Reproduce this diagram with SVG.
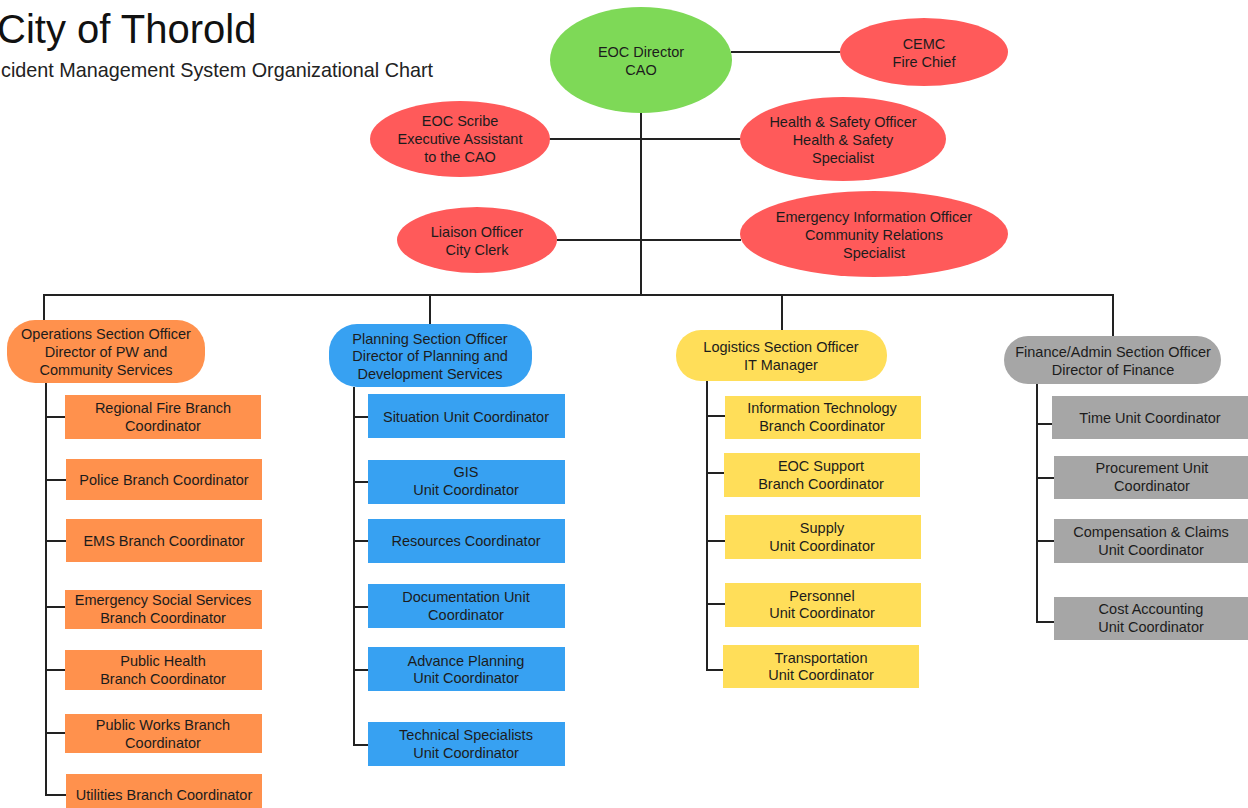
<svg xmlns="http://www.w3.org/2000/svg" width="1248" height="808" viewBox="0 0 1248 808">
<style>
text{font-family:"Liberation Sans",Arial,sans-serif;fill:#1c1c1c;}
.t{font-size:14.5px;text-anchor:middle;}
.ln{stroke:#222;stroke-width:2;fill:none;}
.g{fill:#7ED957;}
.r{fill:#FF5A5A;}
.o{fill:#FF914D;}
.b{fill:#37A1F2;}
.y{fill:#FFDE59;}
.s{fill:#A6A6A6;}
</style>
<rect width="1248" height="808" fill="#fff"/>
<text x="-3" y="43" style="font-size:40px;fill:#111">City of Thorold</text>
<text x="1" y="77" style="font-size:19.8px;fill:#222">cident Management System Organizational Chart</text>

<g id="connectors" class="ln">
<line x1="641" y1="112" x2="641" y2="295"/>
<line x1="731" y1="52" x2="840" y2="52"/>
<line x1="549" y1="139" x2="741" y2="139"/>
<line x1="557" y1="240" x2="741" y2="240"/>
<polyline points="44,321 44,295 1113,295 1113,337"/>
<line x1="430" y1="295" x2="430" y2="325"/>
<line x1="782" y1="295" x2="782" y2="331"/>
<polyline points="46,383 46,795 66,795"/>
<line x1="46" y1="417" x2="66" y2="417"/>
<line x1="46" y1="480" x2="66" y2="480"/>
<line x1="46" y1="541" x2="66" y2="541"/>
<line x1="46" y1="607" x2="66" y2="607"/>
<line x1="46" y1="670" x2="66" y2="670"/>
<line x1="46" y1="733" x2="66" y2="733"/>
<polyline points="354,387 354,745 369,745"/>
<line x1="354" y1="417" x2="369" y2="417"/>
<line x1="354" y1="482" x2="369" y2="482"/>
<line x1="354" y1="541" x2="369" y2="541"/>
<line x1="354" y1="607" x2="369" y2="607"/>
<line x1="354" y1="670" x2="369" y2="670"/>
<polyline points="707,381 707,670 724,670"/>
<line x1="707" y1="416" x2="725" y2="416"/>
<line x1="707" y1="473" x2="724" y2="473"/>
<line x1="707" y1="541" x2="725" y2="541"/>
<line x1="707" y1="604" x2="725" y2="604"/>
<polyline points="1037,384 1037,622 1054,622"/>
<line x1="1037" y1="424" x2="1052" y2="424"/>
<line x1="1037" y1="478" x2="1054" y2="478"/>
<line x1="1037" y1="541" x2="1054" y2="541"/>
</g>

<g id="eoc-director"><ellipse class="g" cx="641" cy="60" rx="91" ry="53"/><text class="t" x="641" y="57">EOC Director</text><text class="t" x="641" y="75">CAO</text></g>
<g id="cemc"><ellipse class="r" cx="924" cy="52" rx="84" ry="34"/><text class="t" x="924" y="49">CEMC</text><text class="t" x="924" y="67">Fire Chief</text></g>
<g id="eoc-scribe"><ellipse class="r" cx="460" cy="139" rx="90" ry="38"/><text class="t" x="460" y="126">EOC Scribe</text><text class="t" x="460" y="144">Executive Assistant</text><text class="t" x="460" y="162">to the CAO</text></g>
<g id="health-safety"><ellipse class="r" cx="843" cy="139" rx="103" ry="42"/><text class="t" x="843" y="127">Health &amp; Safety Officer</text><text class="t" x="843" y="145">Health &amp; Safety</text><text class="t" x="843" y="163">Specialist</text></g>
<g id="liaison"><ellipse class="r" cx="477" cy="240" rx="80" ry="33"/><text class="t" x="477" y="237">Liaison Officer</text><text class="t" x="477" y="255">City Clerk</text></g>
<g id="eio"><ellipse class="r" cx="874" cy="234" rx="134" ry="43"/><text class="t" x="874" y="222">Emergency Information Officer</text><text class="t" x="874" y="240">Community Relations</text><text class="t" x="874" y="258">Specialist</text></g>

<g id="operations"><rect class="o" x="7" y="320" width="198" height="63" rx="28"/><text class="t" x="106" y="339">Operations Section Officer</text><text class="t" x="106" y="357">Director of PW and</text><text class="t" x="106" y="375">Community Services</text></g>
<g id="planning"><rect class="b" x="329" y="324" width="203" height="63" rx="28"/><text class="t" x="430" y="344">Planning Section Officer</text><text class="t" x="430" y="361">Director of Planning and</text><text class="t" x="430" y="379">Development Services</text></g>
<g id="logistics"><rect class="y" x="676" y="330" width="211" height="51" rx="25"/><text class="t" x="781" y="352">Logistics Section Officer</text><text class="t" x="781" y="370">IT Manager</text></g>
<g id="finance"><rect class="s" x="1004" y="336" width="217" height="48" rx="24"/><text class="t" x="1113" y="357">Finance/Admin Section Officer</text><text class="t" x="1113" y="375">Director of Finance</text></g>

<g id="ops-regional-fire"><rect class="o" x="65" y="395" width="196" height="44"/><text class="t" x="163" y="413">Regional Fire Branch</text><text class="t" x="163" y="431">Coordinator</text></g>
<g id="ops-police"><rect class="o" x="66" y="459" width="196" height="41"/><text class="t" x="164" y="485">Police Branch Coordinator</text></g>
<g id="ops-ems"><rect class="o" x="66" y="519" width="196" height="43"/><text class="t" x="164" y="546">EMS Branch Coordinator</text></g>
<g id="ops-ess"><rect class="o" x="65" y="590" width="197" height="39"/><text class="t" x="163" y="605">Emergency Social Services</text><text class="t" x="163" y="623">Branch Coordinator</text></g>
<g id="ops-public-health"><rect class="o" x="65" y="650" width="197" height="40"/><text class="t" x="163" y="666">Public Health</text><text class="t" x="163" y="684">Branch Coordinator</text></g>
<g id="ops-public-works"><rect class="o" x="65" y="714" width="197" height="39"/><text class="t" x="163" y="730">Public Works Branch</text><text class="t" x="163" y="748">Coordinator</text></g>
<g id="ops-utilities"><rect class="o" x="66" y="774" width="196" height="40"/><text class="t" x="164" y="800">Utilities Branch Coordinator</text></g>

<g id="plan-situation"><rect class="b" x="368" y="394" width="197" height="44"/><text class="t" x="466" y="422">Situation Unit Coordinator</text></g>
<g id="plan-gis"><rect class="b" x="368" y="460" width="197" height="44"/><text class="t" x="466" y="477">GIS</text><text class="t" x="466" y="495">Unit Coordinator</text></g>
<g id="plan-resources"><rect class="b" x="368" y="519" width="197" height="44"/><text class="t" x="466" y="546">Resources Coordinator</text></g>
<g id="plan-documentation"><rect class="b" x="368" y="584" width="197" height="44"/><text class="t" x="466" y="602">Documentation Unit</text><text class="t" x="466" y="620">Coordinator</text></g>
<g id="plan-advance"><rect class="b" x="368" y="647" width="197" height="44"/><text class="t" x="466" y="666">Advance Planning</text><text class="t" x="466" y="683">Unit Coordinator</text></g>
<g id="plan-technical"><rect class="b" x="368" y="722" width="197" height="44"/><text class="t" x="466" y="740">Technical Specialists</text><text class="t" x="466" y="758">Unit Coordinator</text></g>

<g id="log-it"><rect class="y" x="725" y="396" width="196" height="43"/><text class="t" x="822" y="413">Information Technology</text><text class="t" x="822" y="431">Branch Coordinator</text></g>
<g id="log-eoc-support"><rect class="y" x="724" y="453" width="196" height="44"/><text class="t" x="821" y="471">EOC Support</text><text class="t" x="821" y="489">Branch Coordinator</text></g>
<g id="log-supply"><rect class="y" x="725" y="515" width="196" height="44"/><text class="t" x="822" y="533">Supply</text><text class="t" x="822" y="551">Unit Coordinator</text></g>
<g id="log-personnel"><rect class="y" x="725" y="583" width="196" height="44"/><text class="t" x="822" y="601">Personnel</text><text class="t" x="822" y="618">Unit Coordinator</text></g>
<g id="log-transportation"><rect class="y" x="723" y="645" width="196" height="43"/><text class="t" x="821" y="663">Transportation</text><text class="t" x="821" y="680">Unit Coordinator</text></g>

<g id="fin-time"><rect class="s" x="1052" y="396" width="196" height="43"/><text class="t" x="1150" y="423">Time Unit Coordinator</text></g>
<g id="fin-procurement"><rect class="s" x="1054" y="456" width="194" height="43"/><text class="t" x="1152" y="473">Procurement Unit</text><text class="t" x="1152" y="491">Coordinator</text></g>
<g id="fin-compensation"><rect class="s" x="1054" y="519" width="194" height="44"/><text class="t" x="1151" y="537">Compensation &amp; Claims</text><text class="t" x="1151" y="555">Unit Coordinator</text></g>
<g id="fin-cost"><rect class="s" x="1054" y="597" width="194" height="43"/><text class="t" x="1151" y="614">Cost Accounting</text><text class="t" x="1151" y="632">Unit Coordinator</text></g>
</svg>
